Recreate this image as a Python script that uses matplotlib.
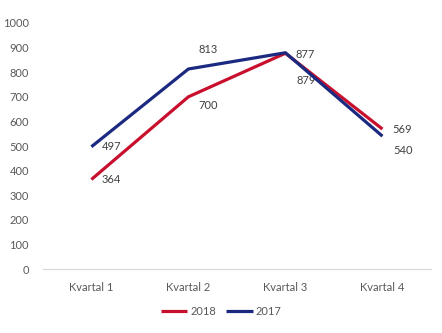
import matplotlib
matplotlib.use('Agg')
import matplotlib.pyplot as plt

# Quarterly figures per year
quarters = ['Kvartal 1', 'Kvartal 2', 'Kvartal 3', 'Kvartal 4']
series_names = ['2018', '2017']
values_2018 = [364, 700, 877, 569]
values_2017 = [497, 813, 879, 540]
y_ticks = [0, 100, 200, 300, 400, 500, 600, 700, 800, 900, 1000]

RED = '#C8102E'
NAVY = '#1B2A80'
GREY = '#595959'

plt.rcParams['font.family'] = ['Lato', 'DejaVu Sans']

fig = plt.figure(figsize=(4.42, 3.33), dpi=100)
ax = fig.add_axes([0.097, 0.192, 0.878, 0.739])

x = range(len(quarters))
ax.plot(x, values_2018, color=RED, lw=2.3, label=series_names[0],
        solid_capstyle='butt', zorder=3)
ax.plot(x, values_2017, color=NAVY, lw=2.3, label=series_names[1],
        solid_capstyle='butt', zorder=4)

# data labels, nudged (pixels) so they don't sit on the lines
offs_2018 = [(20, 0), (20, -9), (20, -1), (20, 0)]
offs_2017 = [(20, 0), (20, 19), (21, -28), (21, -14)]
for vals, offs in ((values_2018, offs_2018), (values_2017, offs_2017)):
    for i, (v, (dx, dy)) in enumerate(zip(vals, offs)):
        ax.annotate(str(v), (i, v), xytext=(dx, dy), textcoords='offset pixels',
                    ha='center', va='center', fontsize=8, color='#404040')

ax.set_xlim(-0.5, 3.5)
ax.set_ylim(0, 1000)
ax.set_xticks(list(x))
ax.set_xticklabels(quarters)
ax.set_yticks(y_ticks)
ax.tick_params(length=0, labelsize=8, labelcolor=GREY)
ax.tick_params(axis='x', pad=9)
ax.tick_params(axis='y', pad=10)
for s in ('top', 'right', 'left'):
    ax.spines[s].set_visible(False)
ax.spines['bottom'].set_color('#D9D9D9')
ax.spines['bottom'].set_linewidth(0.9)

fig.legend(loc='center', bbox_to_anchor=(0.5, 0.066), ncol=2, frameon=False,
           fontsize=8, labelcolor=GREY, handlelength=2.4, handletextpad=0.25,
           columnspacing=0.9)

fig.savefig('out.png', dpi=100)
